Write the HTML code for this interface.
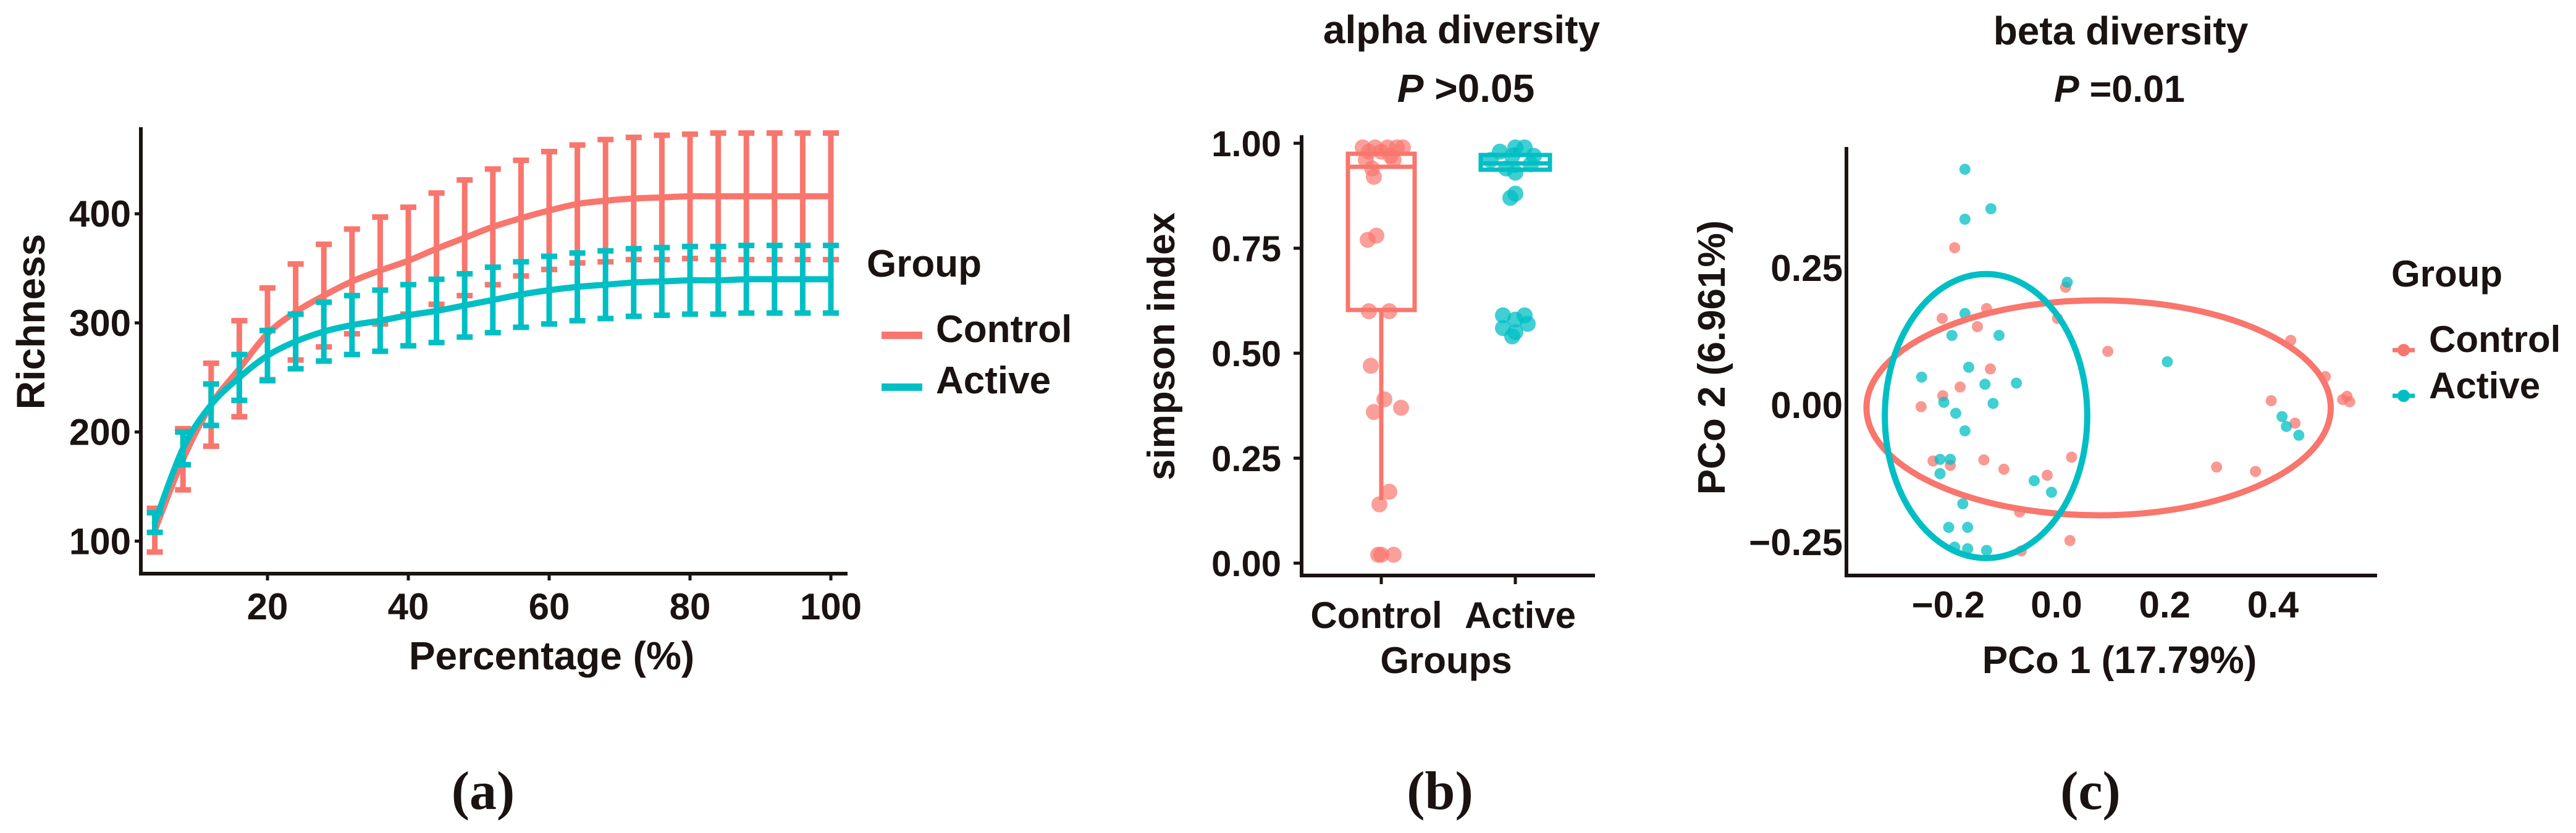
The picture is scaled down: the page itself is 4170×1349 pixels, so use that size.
<!DOCTYPE html>
<html><head><meta charset="utf-8">
<style>
html,body{margin:0;padding:0;background:#fff;}
svg{display:block;}
text{font-family:"Liberation Sans",Arial,sans-serif;font-weight:bold;fill:#1a1311;}
.pl{font-family:"Liberation Serif",serif;font-weight:bold;}
</style></head>
<body>
<svg id="fig" width="4170" height="1349" viewBox="0 0 4170 1349" xmlns="http://www.w3.org/2000/svg">
  <g id="pa"></g>
  <g id="pb"></g>
  <g id="pc"></g>
  <text class="pl" x="782" y="1310" font-size="88" text-anchor="middle">(a)</text>
  <text class="pl" x="2331" y="1310" font-size="88" text-anchor="middle">(b)</text>
  <text class="pl" x="3384" y="1310" font-size="88" text-anchor="middle">(c)</text>
</svg>
<script>
// ---------- Panel (a) data ----------
const pctA = [4,8,12,16,20,24,28,32,36,40,44,48,52,56,60,64,68,72,76,80,84,88,92,96,100];
const controlMean = [110,175,225,258,290,310,325,338,348,357,368,378,388,396,403,409,412,414,415,416,416,416,416,416,416];
const controlErr = [20,28,38,44,42,44,47,48,49,49,51,53,53,53,54,54,56,56,57,57,58,58,58,58,58];
const activeMean = [117,185,225,250,270,283,292,298,302,307,311,316,321,326,330,333,335,337,338,339,339,340,340,340,340];
const activeErr = [9,15,19,21,23,25,27,27,28,28,29,29,30,30,31,31,31,31,31,31,31,31,31,31,31];
const xTicksA = [20,40,60,80,100];
const yTicksA = [100,200,300,400];

// ---------- Panel (b) data ----------
const bCategories = ["Control","Active"];
const yTicksB = [0,0.25,0.5,0.75,1.0];
const yTickLabelsB = ["0.00","0.25","0.50","0.75","1.00"];
const controlSimpson = [0.99,0.99,0.99,0.99,0.99,0.98,0.98,0.97,0.96,0.96,0.94,0.92,0.78,0.77,0.60,0.60,0.47,0.39,0.36,0.37,0.17,0.14,0.02,0.02,0.02];
const controlJitter = [-30,-10,10,25,35,-20,0,15,-25,20,-15,-12,-8,-22,-20,13,-17,5,-12,32,13,-3,0,-5,20];
const activeSimpson = [0.99,0.99,0.98,0.97,0.97,0.96,0.95,0.94,0.93,0.88,0.87,0.59,0.59,0.58,0.57,0.56,0.55,0.54];
const activeJitter = [0,15,-25,-5,30,-40,25,-15,0,0,-8,-20,15,0,20,-20,0,-5];
// box stats: [lower whisker, q1, median, q3, upper whisker]
const controlBox = [0.15,0.603,0.944,0.975,0.995];
const activeBox = [0.93,0.937,0.952,0.972,0.99];

// ---------- Panel (c) data ----------
const xTicksC = [-0.2,0,0.2,0.4];
const xTickLabelsC = ["\u22120.2","0.0","0.2","0.4"];
const yTicksC = [-0.25,0,0.25];
const yTickLabelsC = ["\u22120.25","0.00","0.25"];
const controlPC1 = [-0.195,0.010,-0.136,-0.218,-0.005,-0.153,0.426,0.088,-0.129,0.49,-0.185,-0.217,0.39,-0.257,0.522,0.535,0.53,0.434,0.021,-0.235,-0.203,-0.141,-0.104,-0.024,0.289,0.361,-0.075,0.018,-0.072];
const controlPC2 = [0.287,0.215,0.176,0.158,0.158,0.143,0.118,0.098,0.066,0.052,0.033,0.017,0.008,-0.003,0.010,0.006,0.016,-0.033,-0.095,-0.102,-0.110,-0.100,-0.117,-0.128,-0.113,-0.121,-0.195,-0.247,-0.266];
const activePC1 = [-0.176,-0.128,-0.176,0.013,-0.176,-0.2,-0.113,-0.169,-0.256,-0.139,-0.081,-0.215,-0.124,-0.193,-0.176,0.198,0.41,0.418,0.441,-0.222,-0.203,-0.222,-0.048,-0.016,-0.18,-0.206,-0.171,-0.195,-0.171,-0.136];
const activePC2 = [0.43,0.358,0.339,0.224,0.167,0.127,0.127,0.069,0.051,0.038,0.04,0.005,0.003,-0.015,-0.047,0.079,-0.021,-0.039,-0.055,-0.099,-0.099,-0.125,-0.138,-0.159,-0.18,-0.223,-0.223,-0.259,-0.262,-0.265];
// ellipses: [center pc1, center pc2, radius pc1, radius pc2]
const controlEllipse = [0.071,-0.005,0.429,0.196];
const activeEllipse = [-0.137,-0.02,0.187,0.259];

const RED = "#F8766D", TEAL = "#00BFC4", INK = "#1a1311";
const NS = "http://www.w3.org/2000/svg";
function mk(parent, tag, attrs, txt){
  const e = document.createElementNS(NS, tag);
  for (const k in attrs) e.setAttribute(k, attrs[k]);
  if (txt !== undefined) e.textContent = txt;
  parent.appendChild(e);
  return e;
}

// ===== Panel A =====
(function(){
  const g = document.getElementById('pa');
  const xA = p => 205 + p * 11.4;
  const yA = v => 1053 - v * 1.767;
  let e;
  e = mk(g,'line',{x1:228,y1:206,x2:228,y2:932,stroke:INK,'stroke-width':6});
   
  e = mk(g,'line',{x1:225,y1:929,x2:1372,y2:929,stroke:INK,'stroke-width':6});
   
  yTicksA.forEach(v=>{
    const t = mk(g,'line',{x1:218,y1:yA(v),x2:228,y2:yA(v),stroke:INK,'stroke-width':5});
     
    const l = mk(g,'text',{x:212,y:yA(v)+21,'font-size':60,'text-anchor':'end'},String(v));
     
  });
  xTicksA.forEach(v=>{
    const t = mk(g,'line',{x1:xA(v),y1:929,x2:xA(v),y2:940,stroke:INK,'stroke-width':5});
     
    const l = mk(g,'text',{x:xA(v),y:1003,'font-size':60,'text-anchor':'middle'},String(v));
     
  });
  e = mk(g,'text',{x:0,y:0,'font-size':64,'text-anchor':'middle',transform:'translate(72,521) rotate(-90)'},'Richness');
   
  e = mk(g,'text',{x:893,y:1084,'font-size':64,'text-anchor':'middle'},'Percentage (%)');
   

  function smooth(xs, ys){
    const P = xs.map((x,i)=>[x,ys[i]]);
    let d = 'M'+P[0][0]+','+P[0][1];
    for (let i=0;i<P.length-1;i++){
      const p0=P[Math.max(0,i-1)], p1=P[i], p2=P[i+1], p3=P[Math.min(P.length-1,i+2)];
      const c1=[p1[0]+(p2[0]-p0[0])/6, p1[1]+(p2[1]-p0[1])/6];
      const c2=[p2[0]-(p3[0]-p1[0])/6, p2[1]-(p3[1]-p1[1])/6];
      d += ' C'+c1[0]+','+c1[1]+' '+c2[0]+','+c2[1]+' '+p2[0]+','+p2[1];
    }
    return d;
  }
  function series(mean, err, color, name){
    const sg = mk(g,'g',{});
     
    pctA.forEach((p,i)=>{
      const x = xA(p), y1 = yA(mean[i]+err[i]), y2 = yA(mean[i]-err[i]);
      const b = mk(sg,'path',{d:`M${x},${y1} V${y2} M${x-13},${y1} H${x+13} M${x-13},${y2} H${x+13}`,stroke:color,'stroke-width':9,fill:'none'});
       
    });
    const ln = mk(sg,'path',{d:smooth(pctA.map(xA), mean.map(yA)),stroke:color,'stroke-width':10,fill:'none','stroke-linecap':'round'});
     
  }
  series(controlMean, controlErr, RED, 'control');
  series(activeMean, activeErr, TEAL, 'active');

  e = mk(g,'text',{x:1403,y:448,'font-size':62},'Group');
   
  [['Control',RED,543,554],['Active',TEAL,627,637]].forEach(([lab,c,ly,ty])=>{
    const k = mk(g,'line',{x1:1427,y1:ly,x2:1493,y2:ly,stroke:c,'stroke-width':12});
     
    const t = mk(g,'text',{x:1515,y:ty,'font-size':62},lab);
     
  });
})();

// ===== Panel B =====
(function(){
  const g = document.getElementById('pb');
  const yB = v => 912 - v * 680;
  const xB = i => 2236 + i * 217;
  let e;
  e = mk(g,'text',{x:2366,y:70,'font-size':64,'text-anchor':'middle'},'alpha  diversity');
   
  e = mk(g,'text',{x:2373,y:165,'font-size':64,'text-anchor':'middle'});
   
  mk(e,'tspan',{'font-style':'italic'},'P');
  mk(e,'tspan',{},' >0.05');
  e = mk(g,'line',{x1:2107,y1:219,x2:2107,y2:935,stroke:INK,'stroke-width':6});
   
  e = mk(g,'line',{x1:2104,y1:932,x2:2582,y2:932,stroke:INK,'stroke-width':6});
   
  yTicksB.forEach((v,i)=>{
    const t = mk(g,'line',{x1:2094,y1:yB(v),x2:2107,y2:yB(v),stroke:INK,'stroke-width':5});
     
    const l = mk(g,'text',{x:2074,y:yB(v)+21,'font-size':58,'text-anchor':'end'},yTickLabelsB[i]);
     
  });
  bCategories.forEach((c,i)=>{
    const t = mk(g,'line',{x1:xB(i),y1:932,x2:xB(i),y2:946,stroke:INK,'stroke-width':5});
     
    const l = mk(g,'text',{x:xB(i)+(i===0?-8:8),y:1017,'font-size':60,'text-anchor':'middle'},c);
     
  });
  e = mk(g,'text',{x:2341,y:1090,'font-size':60,'text-anchor':'middle'},'Groups');
   
  e = mk(g,'text',{x:0,y:0,'font-size':62,'text-anchor':'middle',transform:'translate(1901,561) rotate(-90)'},'simpson index');
   

  function box(i, st, color, halfW, name){
    const x = xB(i);
    const w = mk(g,'path',{d:`M${x},${yB(st[1])} V${yB(st[0])} M${x},${yB(st[3])} V${yB(st[4])}`,stroke:color,'stroke-width':7,fill:'none'});
     
    const r = mk(g,'rect',{x:x-halfW,y:yB(st[3]),width:halfW*2,height:yB(st[1])-yB(st[3]),fill:'none',stroke:color,'stroke-width':7});
     
    const m = mk(g,'line',{x1:x-halfW,y1:yB(st[2]),x2:x+halfW,y2:yB(st[2]),stroke:color,'stroke-width':7});
     
  }
  box(0, controlBox, RED, 54, 'control');
  box(1, activeBox, TEAL, 56, 'active');
  controlSimpson.forEach((v,j)=>{
    const c = mk(g,'circle',{cx:xB(0)+controlJitter[j],cy:yB(v),r:13,fill:RED,'fill-opacity':0.7});
     
  });
  activeSimpson.forEach((v,j)=>{
    const c = mk(g,'circle',{cx:xB(1)+activeJitter[j],cy:yB(v),r:13,fill:TEAL,'fill-opacity':0.75});
     
  });
})();

// ===== Panel C =====
(function(){
  const g = document.getElementById('pc');
  const xC = v => 3335 + v * 876;
  const yC = v => 656 - v * 888;
  let e;
  e = mk(g,'text',{x:3433,y:72,'font-size':64,'text-anchor':'middle'},'beta  diversity');
   
  e = mk(g,'text',{x:3431,y:165,'font-size':61,'text-anchor':'middle'});
   
  mk(e,'tspan',{'font-style':'italic'},'P');
  mk(e,'tspan',{},' =0.01');
  e = mk(g,'line',{x1:2989,y1:238,x2:2989,y2:935,stroke:INK,'stroke-width':6});
   
  e = mk(g,'line',{x1:2986,y1:932,x2:3848,y2:932,stroke:INK,'stroke-width':6});
   
  yTicksC.forEach((v,i)=>{
    const l = mk(g,'text',{x:2983,y:yC(v)+21,'font-size':60,'text-anchor':'end'},yTickLabelsC[i]);
     
  });
  xTicksC.forEach((v,i)=>{
    const l = mk(g,'text',{x:xC(v)-6,y:1000,'font-size':60,'text-anchor':'middle'},xTickLabelsC[i]);
     
  });
  e = mk(g,'text',{x:0,y:0,'font-size':62,'text-anchor':'middle',transform:'translate(2792,579) rotate(-90)'},'PCo 2 (6.961%)');
   
  e = mk(g,'text',{x:3431,y:1090,'font-size':62,'text-anchor':'middle'},'PCo 1 (17.79%)');
   

  controlPC1.forEach((v,j)=>{
    const c = mk(g,'circle',{cx:xC(v),cy:yC(controlPC2[j]),r:9,fill:RED,'fill-opacity':0.75});
     
  });
  activePC1.forEach((v,j)=>{
    const c = mk(g,'circle',{cx:xC(v),cy:yC(activePC2[j]),r:9,fill:TEAL,'fill-opacity':0.75});
     
  });
  function ell(p, color, name){
    const el = mk(g,'ellipse',{cx:xC(p[0]),cy:yC(p[1]),rx:p[2]*876,ry:p[3]*888,fill:'none',stroke:color,'stroke-width':10});
     
  }
  ell(controlEllipse, RED, 'control');
  ell(activeEllipse, TEAL, 'active');

  e = mk(g,'text',{x:3871,y:464,'font-size':60},'Group');
   
  [['Control',RED,567,570],['Active',TEAL,641,645]].forEach(([lab,c,ky,ty])=>{
    const k = mk(g,'g',{});
     
    mk(k,'line',{x1:3873,y1:ky,x2:3909,y2:ky,stroke:c,'stroke-width':7});
    mk(k,'circle',{cx:3891,cy:ky,r:10,fill:c});
    const t = mk(g,'text',{x:3932,y:ty,'font-size':60},lab);
     
  });
})();
</script>
</body></html>
